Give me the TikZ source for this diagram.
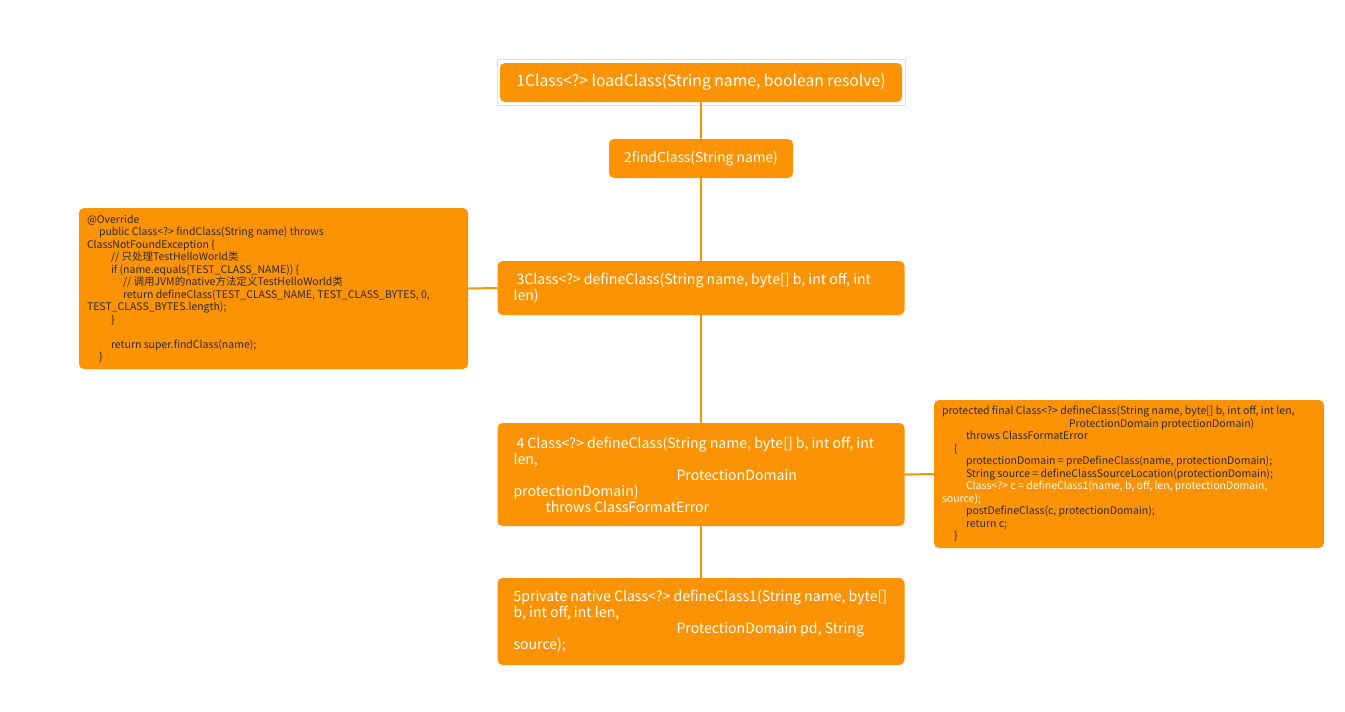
\documentclass[tikz,border=0pt]{standalone}
\usepackage{fontspec}
\setmainfont{Noto Sans CJK SC}
\usepackage{tikz}

\definecolor{boxorange}{RGB}{251,147,5}
\definecolor{codetext}{RGB}{48,42,40}
\definecolor{selblue}{RGB}{204,230,246}

\begin{document}
\begin{tikzpicture}[x=1pt,y=-1pt,
  box/.style={fill=boxorange,rounded corners=5pt,inner sep=0pt},
  bigtext/.style={font=\fontsize{14.1}{16}\selectfont,text=white,align=left,inner sep=0pt,anchor=west},
  smalltext/.style={font=\fontsize{10.5}{12.5}\selectfont,text=codetext,align=left,inner sep=0pt,anchor=west},
  link/.style={draw=boxorange,line width=2pt}]
\useasboundingbox (0,0) rectangle (1345,712);

% main chain
\draw[selblue,line width=1pt] (497,59) rectangle (905,105);
\node[box,minimum width=402pt,minimum height=39pt,text=white,font=\fontsize{15.7}{18}\selectfont] (load) at (701,82.5) {1Class<?> loadClass(String name, boolean resolve)};
\node[box,minimum width=184pt,minimum height=39pt,text=white,font=\fontsize{13.8}{16}\selectfont] (find) at (701,158.5) {2findClass(String name)};
\node[box,minimum width=407pt,minimum height=54pt] (define) at (701,288) {};
\node[box,minimum width=407pt,minimum height=103pt] (defineprot) at (701,474.5) {};
\node[box,minimum width=407pt,minimum height=87pt] (defineone) at (701,621.5) {};

\node[bigtext] (definetxt) at ([xshift=16pt]define.west)
  {\hspace*{3pt}3Class<?> defineClass(String name, byte[] b, int off, int\\len)};
\node[bigtext] (defineprottxt) at ([xshift=16pt]defineprot.west)
  {\hspace*{3pt}4 Class<?> defineClass(String name, byte[] b, int off, int\\len,\\
   \hspace*{163pt}ProtectionDomain\\protectionDomain)\\
   \hspace*{32pt}throws ClassFormatError};
\node[bigtext] (defineonetxt) at ([xshift=16pt]defineone.west)
  {5private native Class<?> defineClass1(String name, byte[]\\b, int off, int len,\\
   \hspace*{163pt}ProtectionDomain pd, String\\source);};

% code notes
\node[box,minimum width=389pt,minimum height=161pt] (findcode) at (273.5,288.5) {};
\node[smalltext] (findcodetxt) at ([xshift=8pt]findcode.west)
  {@Override\\
   \hspace*{12pt}public Class<?> findClass(String name) throws\\
   ClassNotFoundException \{\\
   \hspace*{24pt}// 只处理TestHelloWorld类\\
   \hspace*{24pt}if (name.equals(TEST\_CLASS\_NAME)) \{\\
   \hspace*{36pt}// 调用JVM的native方法定义TestHelloWorld类\\
   \hspace*{36pt}return defineClass(TEST\_CLASS\_NAME, TEST\_CLASS\_BYTES, 0,\\
   TEST\_CLASS\_BYTES.length);\\
   \hspace*{24pt}\}\\
   \mbox{}\\
   \hspace*{24pt}return super.findClass(name);\\
   \hspace*{12pt}\}};

\node[box,minimum width=390pt,minimum height=148pt] (defcode) at (1129,474) {};
\node[smalltext] (defcodetxt) at ([xshift=8pt]defcode.west)
  {protected final Class<?> defineClass(String name, byte[] b, int off, int len,\\
   \hspace*{127pt}ProtectionDomain protectionDomain)\\
   \hspace*{24pt}throws ClassFormatError\\
   \hspace*{12pt}\{\\
   \hspace*{24pt}protectionDomain = preDefineClass(name, protectionDomain);\\
   \hspace*{24pt}String source = defineClassSourceLocation(protectionDomain);\\
   \hspace*{24pt}\textcolor{white}{Class<?> c = defineClass1(name, b, off, len, protectionDomain,}\\
   \textcolor{white}{source);}\\
   \hspace*{24pt}postDefineClass(c, protectionDomain);\\
   \hspace*{24pt}return c;\\
   \hspace*{12pt}\}};

% connectors
\draw[link] (load.south) -- (find.north);
\draw[link] (find.south) -- (define.north);
\draw[link] (define.south) -- (defineprot.north);
\draw[link] (defineprot.south) -- (defineone.north);
\draw[link] (define.west) -- (findcode.east);
\draw[link] (defineprot.east) -- (defcode.west);
\end{tikzpicture}
\end{document}
